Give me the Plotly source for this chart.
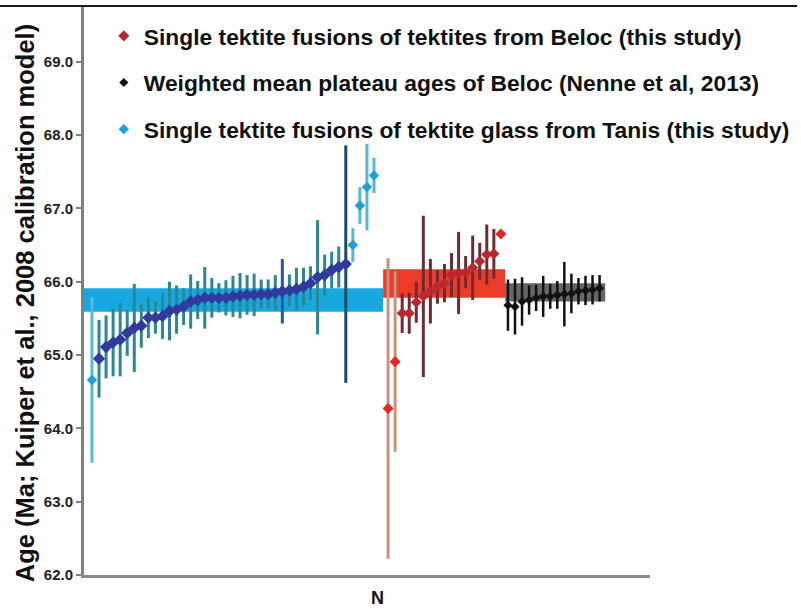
import plotly.graph_objects as go

# ---------------- data ----------------
tanis_age = [64.66,
             64.95, 65.11, 65.17, 65.21, 65.30, 65.37, 65.40, 65.51, 65.51, 65.53, 65.60, 65.62,
             65.66, 65.73, 65.75, 65.78, 65.78, 65.78,
             65.78, 65.80, 65.81, 65.82, 65.82, 65.83, 65.83, 65.85, 65.87, 65.88, 65.90, 65.93,
             65.98, 66.06, 66.09, 66.16, 66.20, 66.24,
             66.50, 67.04, 67.29, 67.45]
tanis_err = [1.13,
             0.53, 0.43, 0.46, 0.50, 0.31, 0.60, 0.30, 0.28, 0.22, 0.31, 0.40, 0.33,
             0.25, 0.37, 0.26, 0.42, 0.27, 0.20,
             0.24, 0.28, 0.31, 0.27, 0.29, 0.20, 0.20, 0.24, 0.44, 0.22, 0.29, 0.26,
             0.23, 0.78, 0.28, 0.25, 0.28, 1.62,
             0.23, 0.25, 0.59, 0.24]
beloc_age = [64.27, 64.91, 65.57, 65.57, 65.72, 65.80, 65.87, 65.93, 65.98,
             66.09, 66.12, 66.13, 66.19, 66.28, 66.37, 66.38, 66.65]
beloc_err = [2.05, 1.23, 0.27, 0.28, 0.28, 1.10, 0.44, 0.23, 0.26,
             0.30, 0.56, 0.22, 0.44, 0.25, 0.41, 0.34, 0.0]
nenne_age = [65.68, 65.66, 65.73, 65.75, 65.78, 65.80, 65.80, 65.82, 65.83,
             65.84, 65.87, 65.88, 65.89, 65.91]
nenne_err = [0.35, 0.38, 0.33, 0.20, 0.18, 0.28, 0.17, 0.19, 0.44,
             0.27, 0.18, 0.20, 0.20, 0.18]
# weighted mean bands: (mean, half-width)
tanis_mean = [65.75, 0.16]
beloc_mean = [65.975, 0.195]
nenne_mean = [65.855, 0.125]

tick_vals = [62, 63, 64, 65, 66, 67, 68, 69]
tick_text = ["62.0", "63.0", "64.0", "65.0", "66.0", "67.0", "68.0", "69.0"]

legend_names = ["Single tektite fusions of tektites from Beloc (this study)",
                "Weighted mean plateau ages of Beloc (Nenne et al, 2013)",
                "Single tektite fusions of tektite glass from Tanis (this study)"]
y_title = "Age (Ma; Kuiper et al., 2008 calibration model)"
x_title = "N"

# ---------------- positions (sample number) ----------------
n_tanis = list(range(1, len(tanis_age) + 1))
n_beloc = list(range(n_tanis[-1] + 2, n_tanis[-1] + 2 + len(beloc_age)))
n_nenne = list(range(n_beloc[-1] + 1, n_beloc[-1] + 1 + len(nenne_age)))

FONT = "Liberation Sans, Arial, sans-serif"
fig = go.Figure()


def add_pts(ns, ages, errs, idx, mcol, ecol, size, name=None, show=False, rank=None, thick=3):
    fig.add_trace(go.Scatter(
        x=[ns[i] for i in idx], y=[ages[i] for i in idx],
        mode="markers",
        marker=dict(symbol="diamond", size=size, color=mcol, line=dict(width=0)),
        error_y=dict(type="data", array=[errs[i] for i in idx], color=ecol,
                     thickness=thick, width=0, visible=True),
        name=name or "", showlegend=show, legendrank=rank if rank else 1000,
        legendgroup=name or None,
    ))


# Tanis groups
light_idx = [0] + list(range(len(tanis_age) - 4, len(tanis_age)))
blue_bar_idx = [27]
navy_bar_idx = [36]
teal_idx = [i for i in range(len(tanis_age)) if i not in light_idx + blue_bar_idx + navy_bar_idx]
add_pts(n_tanis, tanis_age, tanis_err, teal_idx, "#2f3a9c", "#2a8796", 9.5)
add_pts(n_tanis, tanis_age, tanis_err, blue_bar_idx, "#2f3a9c", "#2457a8", 9.5)
add_pts(n_tanis, tanis_age, tanis_err, navy_bar_idx, "#2f3a9c", "#1c4a66", 9.5)
add_pts(n_tanis, tanis_age, tanis_err, light_idx, "#1e9fdc", "#55b8d8", 8,
        name=legend_names[2], show=True, rank=3)

# Beloc groups
bright_idx = [0, 1]
last_idx = [len(beloc_age) - 1]
dark_idx = [i for i in range(len(beloc_age)) if i not in bright_idx + last_idx]
add_pts(n_beloc, beloc_age, beloc_err, bright_idx, "#e4262a", "#c9917f", 8.5)
add_pts(n_beloc, beloc_age, beloc_err, dark_idx, "#b8282e", "#6e2a36", 8.5,
        name=legend_names[0], show=True, rank=1)
add_pts(n_beloc, beloc_age, beloc_err, last_idx, "#e4262a", "#e4262a", 8.5)

# Nenne
add_pts(n_nenne, nenne_age, nenne_err, list(range(len(nenne_age))), "#111111", "#111111", 7,
        name=legend_names[1], show=True, rank=2, thick=2.5)

# ---------------- bands ----------------
x_lo = -0.13
x_hi = 80.15
b1 = (n_tanis[-1] + n_beloc[0]) / 2 + 0.3
b2 = (n_beloc[-1] + n_nenne[0]) / 2 + 0.1
b3 = n_nenne[-1] + 0.8
for (x0, x1, m, col) in [(x_lo, b1, tanis_mean, "#17a8e0"),
                         (b1, b2, beloc_mean, "#ec3b26"),
                         (b2, b3, nenne_mean, "rgba(75,75,75,0.85)")]:
    fig.add_shape(type="rect", xref="x", yref="y", x0=x0, x1=x1,
                  y0=m[0] - m[1], y1=m[0] + m[1], fillcolor=col,
                  line=dict(width=0), layer="below")

# top frame line
fig.add_shape(type="line", xref="paper", yref="paper", x0=-0.16, x1=1.26, y0=1, y1=1,
              line=dict(color="#1a1a1a", width=2))

fig.add_annotation(text=y_title, xref="paper", yref="paper", x=-0.104, y=0.478,
                   xanchor="center", yanchor="middle",
                   textangle=-90, showarrow=False,
                   font=dict(family=FONT, size=25.5, color="#111", weight="bold"))
fig.add_annotation(text=x_title, xref="paper", yref="paper", x=0.518, y=-0.04,
                   showarrow=False, xanchor="center", yanchor="middle",
                   font=dict(family=FONT, size=18, color="#111", weight="bold"))

fig.update_layout(
    width=801, height=614,
    margin=dict(l=84, r=151, t=6, b=39),
    paper_bgcolor="white", plot_bgcolor="white",
    showlegend=True,
    legend=dict(x=0.035, y=0.985, xanchor="left", yanchor="top",
                font=dict(family=FONT, size=22.8, color="#111", weight="bold"),
                tracegroupgap=14, bgcolor="rgba(0,0,0,0)", traceorder="grouped"),
    xaxis=dict(range=[x_lo, x_hi], showgrid=False, zeroline=False, showticklabels=False,
               ticks="", showline=True, linecolor="#8a8a8a", linewidth=3),
    yaxis=dict(range=[62, 69.76], showgrid=False, zeroline=False, tickvals=tick_vals,
               ticktext=tick_text, ticks="outside", ticklen=5, tickwidth=2,
               tickcolor="#808080", showline=True, linecolor="#808080", linewidth=3,
               tickfont=dict(family=FONT, size=15, color="#222", weight="bold")),
)

fig.write_html("out.html")
